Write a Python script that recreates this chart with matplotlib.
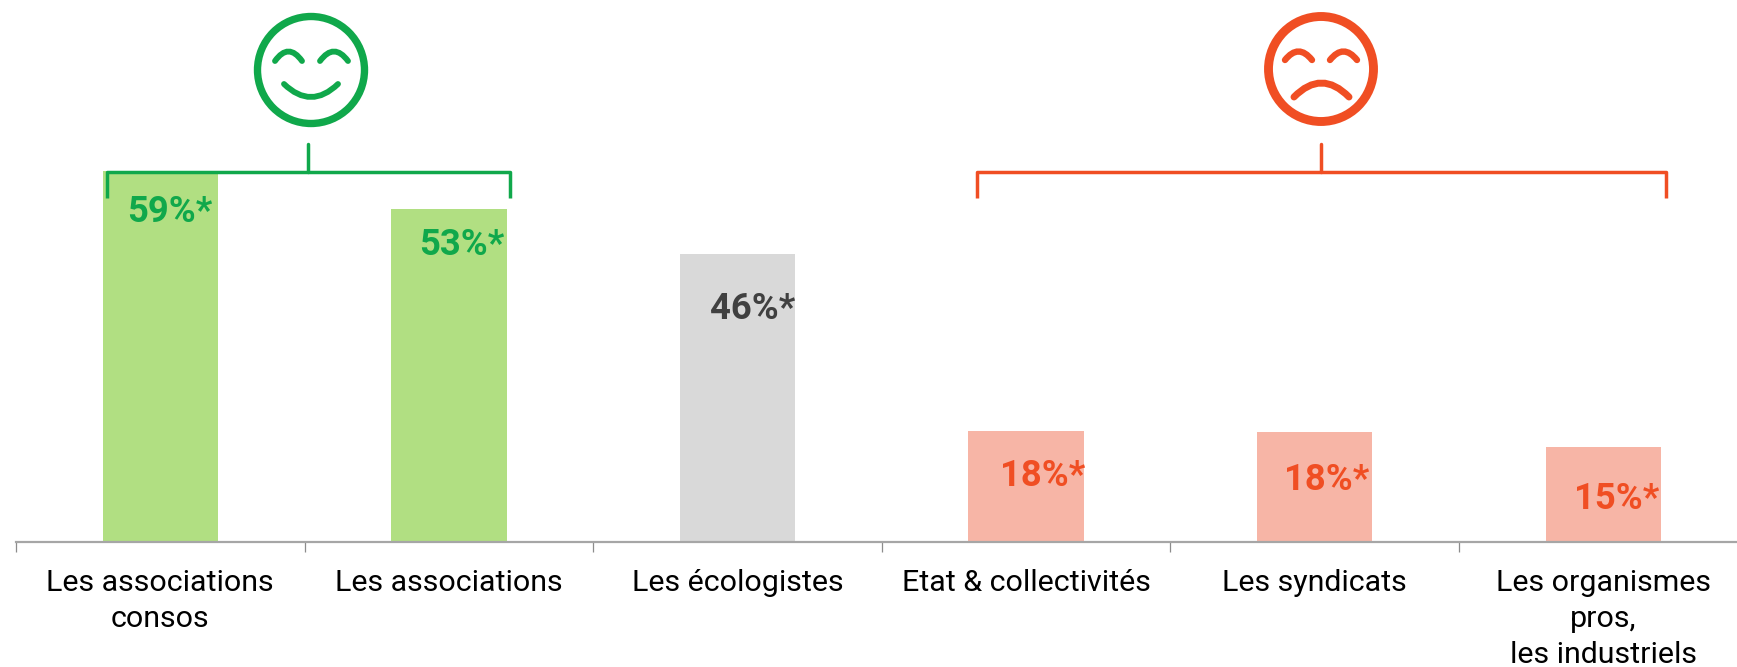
import matplotlib
matplotlib.use("Agg")
import matplotlib.pyplot as plt
from matplotlib.patches import Circle, PathPatch
from matplotlib.path import Path

# Data
categories = ["Les associations\nconsos", "Les associations", "Les écologistes",
              "Etat & collectivités", "Les syndicats", "Les organismes\npros,\nles industriels"]
values = [59, 53, 45.8, 17.7, 17.5, 15.1]
value_labels = ["59%*", "53%*", "46%*", "18%*", "18%*", "15%*"]

GREEN = "#10A84B"
RED = "#F04E23"
DARK = "#404040"
bar_colors = ["#B1DF82", "#B1DF82", "#D9D9D9", "#F7B5A6", "#F7B5A6", "#F7B5A6"]
label_colors = [GREEN, GREEN, DARK, RED, RED, RED]

# label offset from the top right corner of each bar, in pixels
label_dx = [-6, -2, 0, 1, -3, -2]
label_dy = [-37, -32, -51, -41, -44, -48]

W, H = 1737, 667
BASE = 542
PX_PER_UNIT = 6.29
STEP = 288.6

plt.rcParams['font.family'] = ['Roboto', 'DejaVu Sans']

fig = plt.figure(figsize=(W / 100, H / 100), dpi=100)
ax = fig.add_axes([16 / W, (H - BASE) / H, (W - 16) / W, BASE / H])

xs = list(range(len(values)))
bars = ax.bar(xs, values, width=0.4, color=bar_colors, linewidth=0)

for i, v in enumerate(values):
    ax.annotate(value_labels[i], xy=(i + 0.2, v), xytext=(label_dx[i], label_dy[i]),
                textcoords='offset pixels', ha='right', va='center_baseline',
                fontsize=26.3, fontweight='bold', color=label_colors[i])

# Axis: ticks between categories, labels under the bars
for side in ['top', 'right', 'left']:
    ax.spines[side].set_visible(False)
ax.spines['bottom'].set_color('#A6A6A6')
ax.spines['bottom'].set_linewidth(1.6)
ax.set_yticks([])
ax.set_xticks([i - 0.5 for i in range(7)])
ax.set_xticklabels([])
ax.tick_params(axis='x', which='major', length=7.5, width=0.9, color='#8C8C8C')
ax.set_xticks(xs, minor=True)
ax.set_xticklabels(categories, minor=True, fontsize=21.9, color='black', linespacing=1.36)
ax.tick_params(axis='x', which='minor', length=0, pad=19.5)

# set_xticks widens the view, so the limits go last
ax.set_xlim(-0.5, -0.5 + (W - 16) / STEP)
ax.set_ylim(0, BASE / PX_PER_UNIT)

# Overlay in pixel coordinates for the brackets and the faces
ov = fig.add_axes([0, 0, 1, 1], facecolor='none')
ov.set_xlim(0, W)
ov.set_ylim(H, 0)
ov.axis('off')


def bracket(x0, x1, stem, color):
    ov.plot([x0, x0, x1, x1], [198, 172, 172, 198], color=color, lw=2.5,
            solid_joinstyle='round', solid_capstyle='butt')
    ov.plot([stem, stem], [144, 172], color=color, lw=2.5, solid_capstyle='round')


def curve(x0, x1, y_end, y_ctrl, color, lw):
    verts = [(x0, y_end), ((x0 + x1) / 2, y_ctrl), (x1, y_end)]
    codes = [Path.MOVETO, Path.CURVE3, Path.CURVE3]
    ov.add_patch(PathPatch(Path(verts, codes), fill=False, edgecolor=color, lw=lw, capstyle='round'))


bracket(107, 510, 308, GREEN)
bracket(977, 1666, 1321, RED)

# Happy face
ov.add_patch(Circle((311, 70), 53.5, fill=False, edgecolor=GREEN, lw=5.3))
curve(275, 302, 61, 42, GREEN, 4.2)
curve(320, 348, 61, 42, GREEN, 4.2)
curve(284, 338, 84, 110, GREEN, 4.2)

# Sad face
ov.add_patch(Circle((1321, 69), 52.5, fill=False, edgecolor=RED, lw=6.4))
curve(1285, 1312, 60, 43, RED, 4.6)
curve(1330, 1357, 60, 43, RED, 4.6)
curve(1294, 1349, 97, 69, RED, 5)

plt.savefig('out.png', dpi=100)
plt.close()
